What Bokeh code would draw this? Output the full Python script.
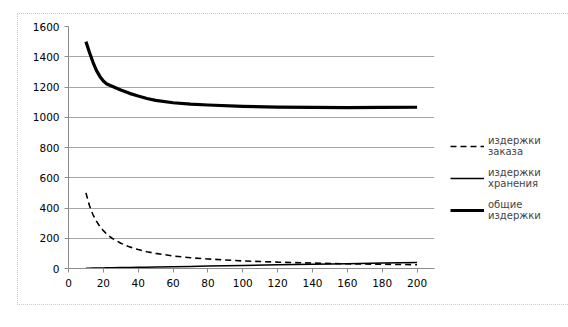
from bokeh.plotting import figure
from bokeh.models import Range1d, FixedTicker, Legend, LegendItem
from bokeh.embed import file_html
from bokeh.resources import INLINE

q = [10, 12, 14, 16, 18, 20, 22, 25, 30, 35, 40, 45, 50, 60, 70, 80, 100, 120, 140, 160, 180, 200]
order_cost = [500, 417, 357, 313, 278, 250, 227, 200, 167, 143, 125, 111, 100, 83, 71, 63, 50, 42, 36, 31, 28, 25]
holding_cost = [2, 2.4, 2.8, 3.2, 3.6, 4, 4.4, 5, 6, 7, 8, 9, 10, 12, 14, 16, 20, 24, 28, 32, 36, 40]
total_cost = [1500, 1430, 1365, 1310, 1270, 1240, 1220, 1205, 1180, 1158, 1140, 1124, 1112, 1096, 1087, 1081, 1072, 1067, 1065, 1064, 1065, 1066]
labels = ["издержки\nзаказа", "издержки\nхранения", "общие\nиздержки"]
x_ticks = list(range(0, 201, 20))
y_ticks = list(range(0, 1601, 200))

FONT = "DejaVu Sans"

p = figure(frame_width=366, frame_height=242, output_backend="svg", toolbar_location=None,
           x_range=Range1d(0, 210), y_range=Range1d(0, 1600),
           min_border_left=50, min_border_right=0, min_border_top=12, min_border_bottom=36,
           styles={"margin-left": "17px", "margin-top": "13px", "border": "1px dotted #c8c8c8"})
p.outline_line_color = None
p.background_fill_color = "white"
p.border_fill_color = "white"

r1 = p.line(q, order_cost, line_color="black", line_width=1.6, line_dash="6 4")
r2 = p.line(q, holding_cost, line_color="black", line_width=1.5)
r3 = p.line(q, total_cost, line_color="black", line_width=3.2, line_join="round")

p.xgrid.grid_line_color = None
p.ygrid.grid_line_color = "#a6a6a6"
p.ygrid.grid_line_width = 1

for ax in (p.xaxis[0], p.yaxis[0]):
    ax.axis_line_color = "#8c8c8c"
    ax.major_tick_line_color = "#8c8c8c"
    ax.minor_tick_line_color = None
    ax.major_tick_in = 0
    ax.major_tick_out = 4
    ax.major_label_text_font = FONT
    ax.major_label_text_font_size = "10.5px"
    ax.major_label_text_color = "#000000"

p.xaxis[0].ticker = FixedTicker(ticks=x_ticks)
p.yaxis[0].ticker = FixedTicker(ticks=y_ticks)
p.xaxis[0].major_label_standoff = 6
p.yaxis[0].major_label_standoff = 5

legend = Legend(items=[LegendItem(label=labels[0], renderers=[r1]),
                       LegendItem(label=labels[1], renderers=[r2]),
                       LegendItem(label=labels[2], renderers=[r3])],
                location=(16, 47), orientation="vertical",
                label_text_font=FONT, label_text_font_size="10px",
                glyph_width=34, glyph_height=14, spacing=10, padding=0,
                margin=16, label_standoff=4, border_line_color=None, background_fill_alpha=0)
p.add_layout(legend, "right")

open("out.html", "w").write(file_html(p, INLINE))
